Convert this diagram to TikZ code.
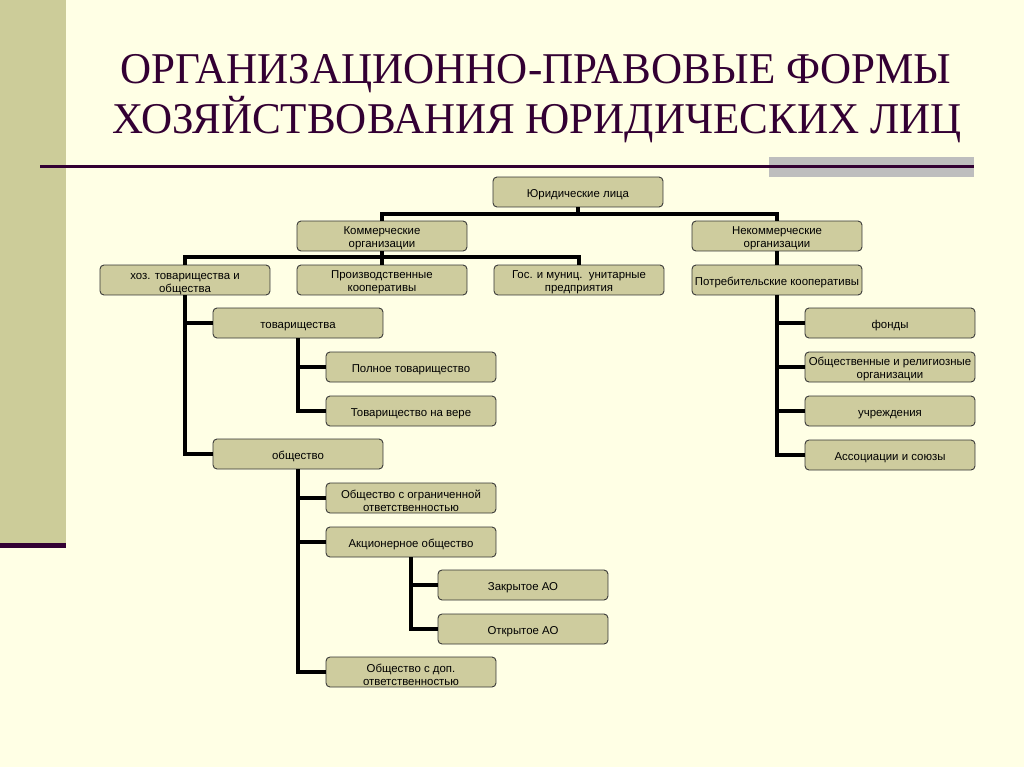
\documentclass[tikz,border=0pt]{standalone}
\usepackage{fontspec}
\setmainfont{Liberation Serif}
\newfontfamily\boxfont{Liberation Sans}
\begin{document}
\begin{tikzpicture}[x=0.02cm,y=-0.02cm,
  box/.style={draw=black!80, line width=0.5pt, fill=boxfill, rounded corners=0.08cm,
    minimum width=3.4cm, minimum height=0.6cm, inner sep=0pt, align=center,
    font=\boxfont\fontsize{6.5}{7.4}\selectfont,
    execute at begin node={\rule{0pt}{7.6pt}}},
  twoline/.style={execute at begin node={\rule{0pt}{15pt}}},
  conn/.style={line width=2.6pt, black, line join=miter},
  titlef/.style={text=titlecol, font=\fontsize{25}{28}\selectfont, inner sep=0pt, anchor=base}]
\definecolor{bg}{RGB}{255,255,229}
\definecolor{band}{RGB}{204,204,153}
\definecolor{boxfill}{RGB}{206,204,158}
\definecolor{titlecol}{RGB}{51,0,51}
\definecolor{graybar}{RGB}{190,190,190}
% background
\fill[bg] (0,0) rectangle (1024,767);
\useasboundingbox (0,0) rectangle (1024,767);
\fill[band] (0,0) rectangle (66,545);
\fill[titlecol] (0,543) rectangle (66,548);
\fill[graybar] (769,157) rectangle (974,177);
\fill[titlecol] (40,164.5) rectangle (974,167.5);
% title
\node[titlef] (t1) at (536,84) {\scalebox{0.98}[1]{ОРГАНИЗАЦИОННО-ПРАВОВЫЕ ФОРМЫ}};
\node[titlef] (t2) at (537,133) {\scalebox{0.98}[1]{ХОЗЯЙСТВОВАНИЯ ЮРИДИЧЕСКИХ ЛИЦ}};
% nodes
\node[box] (jur) at (578,192) {Юридические лица};
\node[box,twoline] (kom) at (382,236) {Коммерческие\\организации};
\node[box,twoline] (nekom) at (777,236) {Некоммерческие\\организации};
\node[box,twoline] (hoz) at (185,280) {хоз. товарищества и\\общества};
\node[box,twoline] (proizv) at (382,280) {Производственные\\кооперативы};
\node[box,twoline] (gos) at (579,280) {Гос. и муниц.\ \ унитарные\\предприятия};
\node[box] (potreb) at (777,280) {Потребительские кооперативы};
\node[box] (tov) at (298,323) {товарищества};
\node[box] (poln) at (411,367) {Полное товарищество};
\node[box] (vera) at (411,411) {Товарищество на вере};
\node[box] (obsh) at (298,454) {общество};
\node[box,twoline] (ooo) at (411,498) {Общество с ограниченной\\ответственностью};
\node[box] (ao) at (411,542) {Акционерное общество};
\node[box] (zao) at (523,585) {Закрытое АО};
\node[box] (oao) at (523,629) {Открытое АО};
\node[box,twoline] (dop) at (411,672) {Общество с доп.\\ответственностью};
\node[box] (fond) at (890,323) {фонды};
\node[box,twoline] (obrel) at (890,367) {Общественные и религиозные\\организации};
\node[box] (uchr) at (890,411) {учреждения};
\node[box] (assoc) at (890,455) {Ассоциации и союзы};
% bus points
\coordinate (b1) at (578,214);
\coordinate (b2) at (382,257);
% connectors
\draw[conn] (jur.south) -- (b1);
\draw[conn] (kom.north) |- (b1) -| (nekom.north);
\draw[conn] (kom.south) -- (b2);
\draw[conn] (hoz.north) |- (b2) -| (gos.north);
\draw[conn] (proizv.north) -- (b2);
\draw[conn] (nekom.south) -- (potreb.north);
\draw[conn] (hoz.south) |- (tov.west);
\draw[conn] (hoz.south) |- (obsh.west);
\draw[conn] (tov.south) |- (poln.west);
\draw[conn] (tov.south) |- (vera.west);
\draw[conn] (obsh.south) |- (ooo.west);
\draw[conn] (obsh.south) |- (ao.west);
\draw[conn] (obsh.south) |- (dop.west);
\draw[conn] (ao.south) |- (zao.west);
\draw[conn] (ao.south) |- (oao.west);
\draw[conn] (potreb.south) |- (fond.west);
\draw[conn] (potreb.south) |- (obrel.west);
\draw[conn] (potreb.south) |- (uchr.west);
\draw[conn] (potreb.south) |- (assoc.west);
\end{tikzpicture}
\end{document}
